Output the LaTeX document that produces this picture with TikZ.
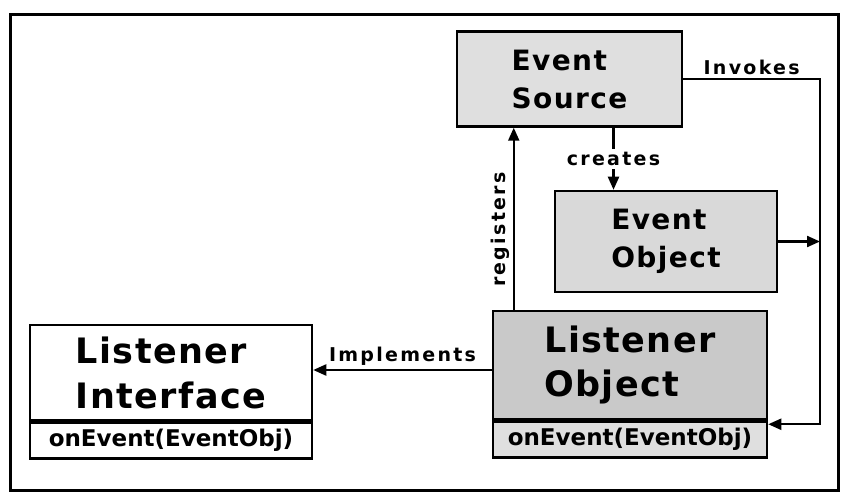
\documentclass[tikz,border=0pt]{standalone}
\usepackage{fontspec}
\setmainfont{DejaVu Sans}
\usetikzlibrary{arrows.meta,positioning}
\newcommand{\cls}{\node[cls]}
\newcommand{\meth}{\node[meth]}

\begin{document}
\begin{tikzpicture}[x=1pt,y=-1pt,
    cls/.style={draw=black, line width=2.5pt, align=left, inner sep=0pt,
      font=\bfseries\fontsize{28}{38}\selectfont\addfontfeature{LetterSpace=5}},
    meth/.style={draw=black, line width=2.5pt, inner sep=0pt, minimum height=36pt,
      font=\bfseries\fontsize{23}{25}\selectfont},
    arr/.style={-{Triangle[length=13pt,width=11pt]}, line width=2.2pt},
    lbl/.style={font=\bfseries\fontsize{19}{21}\selectfont\addfontfeature{LetterSpace=12}, inner sep=3pt}]
					\useasboundingbox (0,0) rectangle (842,494);
					\draw[line width=3pt] (10,15) rectangle (838,490);
					\cls (esrc) [fill=gray!25, minimum width=225pt, minimum height=95pt] at (569.5,79) {Event\\Source};
					\cls (eobj) [fill=gray!30, minimum width=222pt, minimum height=101pt] at (666,241.5) {Event\\Object};
					\cls (lobj) [fill=gray!42, minimum width=274pt, minimum height=108pt,
					  font=\bfseries\fontsize{35}{44}\selectfont\addfontfeature{LetterSpace=4}] at (630,365) {Listener\\Object};
					\meth (lobjm) [fill=gray!25, minimum width=274pt, below=0pt of lobj] {onEvent(EventObj)};
					\cls (lint) [fill=white, minimum width=282pt, minimum height=95pt,
					  font=\bfseries\fontsize{35}{45}\selectfont\addfontfeature{LetterSpace=4}] at (171,372.5) {Listener\\Interface};
					\meth (lintm) [fill=white, minimum width=282pt, below=0pt of lint] {onEvent(EventObj)};
					\coordinate (rail) at (820,79);
					% connectors
					\draw[arr] ([xshift=44pt]esrc.south) -- node[lbl, fill=white] {creates} ([xshift=44pt]esrc.south |- eobj.north);
					\draw[arr] ([xshift=22pt]lobj.north west) -- node[lbl, sloped, above, pos=0.44] {registers} ([xshift=22pt]lobj.north west |- esrc.south);
					\draw[arr] (esrc.east) -- node[lbl, above] {Invokes} (rail) |- ([yshift=-4pt]lobjm.north east);
					\draw[arr] (eobj.east) -- (eobj.east -| rail);
					\draw[arr] ([yshift=-5pt]lobj.west) -- node[lbl, above] {Implements} ([yshift=-5pt]lobj.west -| lint.east);
				\end{tikzpicture}
\end{document}
